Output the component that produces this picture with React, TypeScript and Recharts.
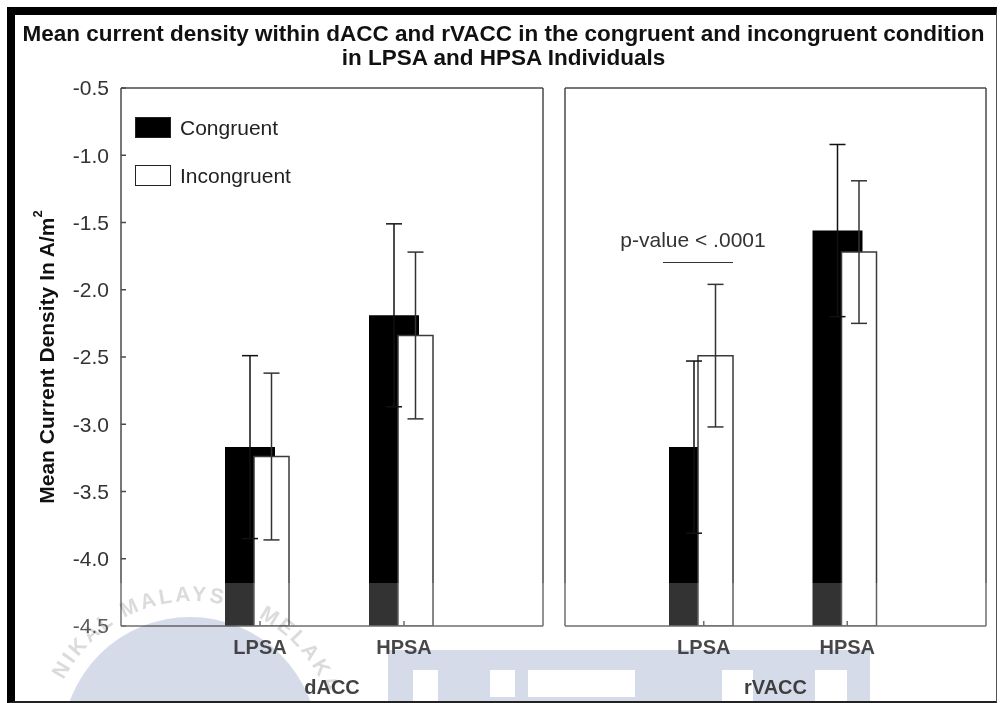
import React from "react";
import { BarChart, Bar, XAxis, YAxis, ErrorBar } from "recharts";

const groups = ["LPSA", "HPSA"];
const seriesNames = ["Congruent", "Incongruent"];
const yTicks = [-4.5, -4.0, -3.5, -3.0, -2.5, -2.0, -1.5, -1.0, -0.5];

const daccCongruent = [-3.17, -2.19];
const daccCongruentErr = [0.68, 0.68];
const daccIncongruent = [-3.24, -2.34];
const daccIncongruentErr = [0.62, 0.62];

const rvaccCongruent = [-3.17, -1.56];
const rvaccCongruentErr = [0.64, 0.64];
const rvaccIncongruent = [-2.49, -1.72];
const rvaccIncongruentErr = [0.53, 0.53];

const Y_MIN = -4.5;
const Y_MAX = -0.5;

const FONT = '"Liberation Sans", Arial, Helvetica, sans-serif';
const AXIS = "#4a4a4a";
const SERIES_FILL = ["#000000", "#ffffff"];

type Row = {
  group: string;
  congruent: number;
  congruentErr: number;
  incongruent: number;
  incongruentErr: number;
};

function buildRows(c: number[], cErr: number[], ic: number[], icErr: number[]): Row[] {
  return groups.map((g, i) => ({
    group: g,
    congruent: c[i],
    congruentErr: cErr[i],
    incongruent: ic[i],
    incongruentErr: icErr[i],
  }));
}

const daccRows = buildRows(daccCongruent, daccCongruentErr, daccIncongruent, daccIncongruentErr);
const rvaccRows = buildRows(rvaccCongruent, rvaccCongruentErr, rvaccIncongruent, rvaccIncongruentErr);

function YTitle(props: any) {
  const vb = props.viewBox;
  return (
    <text
      transform={`translate(${vb.x + 46},${vb.y + vb.height / 2}) rotate(-90)`}
      textAnchor="middle"
      dominantBaseline="central"
      fontSize={21}
      fontWeight={700}
      fill="#111"
    >
      Mean Current Density In A/m
      <tspan fontSize={13} dy={-9}>
        2
      </tspan>
    </text>
  );
}

interface PanelProps {
  rows: Row[];
  region: string;
  width: number;
  leftWidth: number;
  rightWidth: number;
  showValues: boolean;
}

function RegionPanel({ rows, region, width, leftWidth, rightWidth, showValues }: PanelProps) {
  return (
    <BarChart
      width={width}
      height={703}
      data={rows}
      margin={{ top: 0, right: 0, bottom: 0, left: 0 }}
      barGap={-21}
    >
      <XAxis
        xAxisId="top"
        orientation="top"
        dataKey="group"
        height={88}
        padding={{ left: 67, right: 67 }}
        tick={false}
        tickSize={-5}
        interval={0}
        stroke={AXIS}
        strokeWidth={1.5}
      />
      <XAxis
        xAxisId="cat"
        dataKey="group"
        height={77}
        padding={{ left: 67, right: 67 }}
        tickSize={-5}
        tickMargin={19}
        interval={0}
        stroke={AXIS}
        strokeWidth={1.5}
        tick={{ fontSize: 20, fontWeight: 700, fill: "#1a1a1a" }}
        label={{
          value: region,
          position: "insideBottom",
          offset: 9,
          fill: "#111",
          fontSize: 20,
          fontWeight: 700,
        }}
      />
      {/* bars sit a few px left of the category ticks */}
      <XAxis xAxisId="zbars" dataKey="group" hide height={0} padding={{ left: 64, right: 70 }} />
      <YAxis
        yAxisId="l"
        width={leftWidth}
        domain={[Y_MIN, Y_MAX]}
        allowDataOverflow
        ticks={yTicks}
        interval={0}
        tickSize={-5}
        tickMargin={17}
        stroke={AXIS}
        strokeWidth={1.5}
        tick={showValues ? { fontSize: 21, fill: "#333" } : false}
        tickFormatter={(v: number) => v.toFixed(1)}
        label={showValues ? { content: YTitle } : undefined}
      />
      <YAxis
        yAxisId="r"
        orientation="right"
        width={rightWidth}
        domain={[Y_MIN, Y_MAX]}
        allowDataOverflow
        ticks={yTicks}
        interval={0}
        tickSize={-5}
        tick={false}
        stroke={AXIS}
        strokeWidth={1.5}
      />
      <Bar
        xAxisId="zbars"
        yAxisId="l"
        name={seriesNames[0]}
        dataKey={(d: Row) => [Y_MIN, d.congruent]}
        fill={SERIES_FILL[0]}
        barSize={50}
        isAnimationActive={false}
      >
        <ErrorBar dataKey="congruentErr" direction="y" width={8} stroke="#111" strokeWidth={1.5} />
      </Bar>
      <Bar
        xAxisId="zbars"
        yAxisId="l"
        name={seriesNames[1]}
        dataKey={(d: Row) => [Y_MIN, d.incongruent]}
        fill={SERIES_FILL[1]}
        stroke="#3a3a3a"
        strokeWidth={1.5}
        barSize={35}
        isAnimationActive={false}
      >
        <ErrorBar dataKey="incongruentErr" direction="y" width={8} stroke="#333" strokeWidth={1.5} />
      </Bar>
    </BarChart>
  );
}

// faint university stamp over the lower part of the figure
function Stamp() {
  const holes = [
    [413, 670, 25, 33],
    [490, 670, 25, 27],
    [528, 670, 107, 27],
    [722, 670, 31, 33],
    [815, 670, 32, 33],
  ];
  const blockPath =
    "M388 650 H870 V701 H388 Z " +
    holes.map(([x, y, w, h]) => `M${x} ${y} h${w} v${h} h${-w} Z`).join(" ");
  const svgStyle: React.CSSProperties = { position: "absolute", left: 0, top: 0, pointerEvents: "none" };
  return (
    <>
      <svg width={1001} height={703} style={{ ...svgStyle, mixBlendMode: "multiply" }}>
        <defs>
          <path id="ring" d="M 48 745 A 144 144 0 0 1 336 745" />
          <clipPath id="inner">
            <rect x={15} y={15} width={981} height={686} />
          </clipPath>
        </defs>
        <g clipPath="url(#inner)">
          <circle cx={190} cy={745} r={128} fill="#cbd2e4" />
          <path d={blockPath} fill="#cbd2e4" fillRule="evenodd" />
          <text fontSize={21} fontWeight={700} letterSpacing={3} fill="#d2d2d2">
            <textPath href="#ring" startOffset="52%" textAnchor="middle">
              NIKAL MALAYSIA MELAKA
            </textPath>
          </text>
        </g>
      </svg>
      <svg width={1001} height={703} style={svgStyle}>
        <rect x={15} y={583} width={981} height={118} fill="#ffffff" opacity={0.2} />
      </svg>
    </>
  );
}

export default function App() {
  return (
    <div
      style={{
        position: "absolute",
        left: 0,
        top: 0,
        width: 1001,
        height: 703,
        background: "#fff",
        fontFamily: FONT,
        overflow: "hidden",
      }}
    >
      <div
        style={{
          position: "absolute",
          left: 7,
          top: 7,
          width: 990,
          height: 696,
          boxSizing: "border-box",
          borderLeft: "8px solid #000",
          borderTop: "8px solid #000",
          borderRight: "1.5px solid #555",
          borderBottom: "2px solid #222",
        }}
      />
      <div
        style={{
          position: "absolute",
          left: 0,
          top: 22,
          width: 1007,
          textAlign: "center",
          fontSize: 22.5,
          fontWeight: 700,
          lineHeight: "24px",
          color: "#111",
        }}
      >
        Mean current density within dACC and rVACC in the congruent and incongruent condition
        <br />
        in LPSA and HPSA Individuals
      </div>

      <div style={{ position: "absolute", left: 0, top: 0 }}>
        <RegionPanel rows={daccRows} region="dACC" width={560} leftWidth={121} rightWidth={17} showValues />
      </div>
      <div style={{ position: "absolute", left: 548, top: 0 }}>
        <RegionPanel rows={rvaccRows} region="rVACC" width={448} leftWidth={17} rightWidth={10} showValues={false} />
      </div>

      {seriesNames.map((name, i) => (
        <div
          key={name}
          style={{ position: "absolute", left: 135, top: 117 + i * 48, display: "flex", alignItems: "center" }}
        >
          <div
            style={{
              width: 36,
              height: 21,
              boxSizing: "border-box",
              background: SERIES_FILL[i],
              border: "1.5px solid #222",
            }}
          />
          <span style={{ marginLeft: 9, fontSize: 21, color: "#222", lineHeight: "21px" }}>{name}</span>
        </div>
      ))}

      <div
        style={{
          position: "absolute",
          left: 593,
          top: 228,
          width: 200,
          textAlign: "center",
          fontSize: 21,
          lineHeight: "24px",
          color: "#333",
        }}
      >
        p-value &lt; .0001
      </div>
      <div style={{ position: "absolute", left: 663, top: 262, width: 70, borderTop: "1.5px solid #333" }} />

      <Stamp />
    </div>
  );
}
